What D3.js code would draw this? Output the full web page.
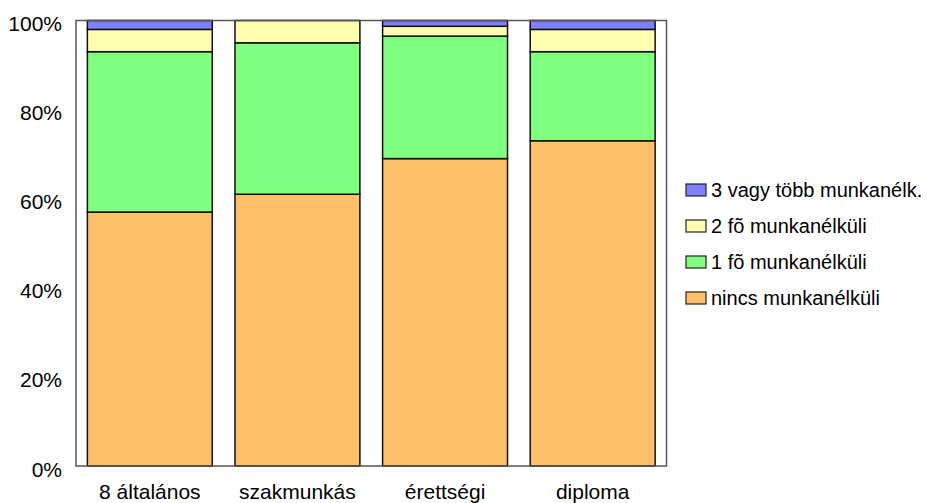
<!DOCTYPE html>
<html>
<head>
<meta charset="utf-8">
<script src="https://cdn.jsdelivr.net/npm/d3@7"></script>
<style>
    body { margin: 0; background: #ffffff; }
    svg { display: block; font-family: "Liberation Sans", Arial, sans-serif; }
</style>
</head>
<body>
<svg id="chart" width="927" height="503"></svg>
<script>
// adatok
const categories = ["8 általános", "szakmunkás", "érettségi", "diploma"];
const seriesNames = ["nincs munkanélküli", "1 fõ munkanélküli", "2 fõ munkanélküli", "3 vagy több munkanélk."];
const nincs = [57, 61, 69, 73];
const egyFo = [36, 34, 27.5, 20];
const ketFo = [5, 5, 2.2, 5];
const haromVagyTobb = [2, 0, 1.3, 2];
const yTicks = [0, 20, 40, 60, 80, 100];
const colors = ["#ffc06a", "#80ff80", "#ffffb0", "#8080ff"];

const seriesValues = [nincs, egyFo, ketFo, haromVagyTobb];

// tábla a stackhez
const table = categories.map((c, i) => {
    let row = { cat: c };
    seriesNames.forEach((s, j) => row[s] = seriesValues[j][i]);
    return row;
});

const svg = d3.select("#chart");
const plot = { left: 76, top: 20.5, right: 666.5, bottom: 466 };

const x = d3.scaleBand()
    .domain(categories)
    .range([plot.left, plot.right])
    .paddingInner(0.154)
    .paddingOuter(0.077);

const y = d3.scaleLinear()
    .domain([0, 100])
    .range([plot.bottom, plot.top]);

const stacked = d3.stack().keys(seriesNames)(table);

// oszlopok
const layers = svg.append("g")
    .selectAll("g")
    .data(stacked)
    .enter()
    .append("g")
    .style("fill", (d, i) => colors[i]);

layers.selectAll("rect")
    .data(d => d.filter(p => p[1] - p[0] > 0))
    .enter()
    .append("rect")
    .attr("x", d => x(d.data.cat))
    .attr("y", d => y(d[1]))
    .attr("width", x.bandwidth())
    .attr("height", d => y(d[0]) - y(d[1]))
    .style("stroke", "#111")
    .style("stroke-width", 1.5);

// keret
svg.append("rect")
    .attr("x", plot.left)
    .attr("y", plot.top)
    .attr("width", plot.right - plot.left)
    .attr("height", plot.bottom - plot.top)
    .style("fill", "none")
    .style("stroke", "#555")
    .style("stroke-width", 1.5);

// y tengely feliratok
const yAxis = d3.axisLeft(y)
    .tickValues(yTicks)
    .tickFormat(d => d + "%")
    .tickSize(0)
    .tickPadding(14);

svg.append("g")
    .attr("transform", `translate(${plot.left},0)`)
    .call(yAxis)
    .call(g => g.select(".domain").remove())
    .selectAll("text")
    .attr("dy", "0.48em")
    .style("font-size", "21px")
    .style("font-family", "Liberation Sans, Arial, sans-serif")
    .style("fill", "#000");

// x tengely feliratok
const xAxis = d3.axisBottom(x).tickSize(0).tickPadding(18);

svg.append("g")
    .attr("transform", `translate(0,${plot.bottom})`)
    .call(xAxis)
    .call(g => g.select(".domain").remove())
    .selectAll("text")
    .style("font-size", "21px")
    .style("font-family", "Liberation Sans, Arial, sans-serif")
    .style("fill", "#000");

// jelmagyarázat (fordított sorrend)
const legendItems = seriesNames.map((s, i) => ({ name: s, color: colors[i] })).reverse();

const legend = svg.append("g")
    .attr("transform", "translate(686,190)");

const item = legend.selectAll("g")
    .data(legendItems)
    .enter()
    .append("g")
    .attr("transform", (d, i) => `translate(0,${i * 36})`);

item.append("rect")
    .attr("x", 0)
    .attr("y", -6)
    .attr("width", 20)
    .attr("height", 12)
    .style("fill", d => d.color)
    .style("stroke", "#222")
    .style("stroke-width", 1.2);

item.append("text")
    .attr("x", 25)
    .attr("y", 0)
    .attr("dy", "0.36em")
    .style("font-size", "20px")
    .text(d => d.name);
</script>
</body>
</html>
